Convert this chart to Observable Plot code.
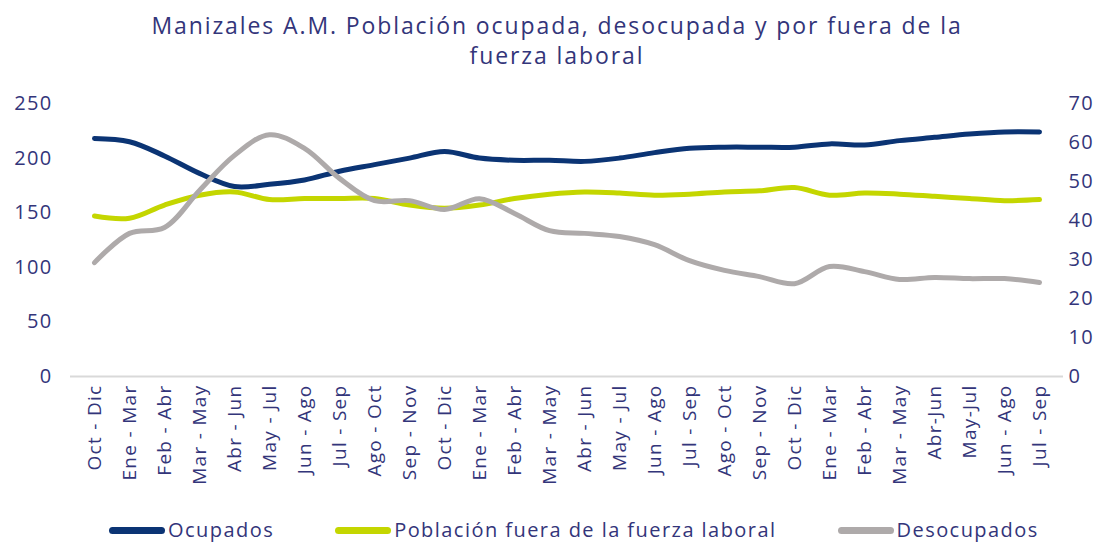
<!DOCTYPE html>
<html>
<head>
<meta charset="utf-8">
<script src="https://cdn.jsdelivr.net/npm/d3@7"></script>
<script src="https://cdn.jsdelivr.net/npm/@observablehq/plot@0.6"></script>
<style>
  html, body { margin: 0; background: #fff; font-family: "Open Sans", sans-serif; color: #33357a; overflow: hidden; }
  #title { width: 1114px; text-align: center; font-size: 23px; letter-spacing: 1.9px; line-height: 30px; padding-top: 10px; height: 60px; color: #33357a; }
  #legend { position: absolute; left: 109px; top: 518px; display: flex; gap: 61px; font-size: 20px; line-height: 24px; letter-spacing: 1.45px; height: 24px; align-items: center; white-space: nowrap; }
  #legend .item { display: flex; align-items: center; height: 24px; }
  #legend .sw { width: 56px; height: 7px; border-radius: 3.5px; margin-right: 3px; }
</style>
</head>
<body>
<div id="title">Manizales A.M. Población ocupada, desocupada y por fuera de la<br>fuerza laboral</div>
<div id="chart"></div>
<div id="legend"></div>
<script>
const periods = ["Oct - Dic","Ene - Mar","Feb - Abr","Mar - May","Abr - Jun","May - Jul","Jun - Ago","Jul - Sep","Ago - Oct","Sep - Nov","Oct - Dic ","Ene - Mar ","Feb - Abr ","Mar - May ","Abr - Jun ","May - Jul ","Jun - Ago ","Jul - Sep ","Ago - Oct ","Sep - Nov ","Oct - Dic  ","Ene - Mar  ","Feb - Abr  ","Mar - May  ","Abr-Jun","May-Jul","Jun - Ago  ","Jul - Sep  "];
const ocupados = [218,215,202,186,174,176,180,188,194,200,206,200,198,198,197,200,205,209,210,210,210,213,212,216,219,222,224,224];
const fuera = [147,145,157,166,169,162,163,163,163,157,154,157,163,167,169,168,166,167,169,170,173,166,168,167,165,163,161,162];
const desocupados = [29.2,36.7,38.2,47.7,56.7,62,58.5,50.8,45.1,45.1,42.8,45.6,41.8,37.4,36.7,35.9,33.8,29.7,27.2,25.6,23.8,28.2,26.9,24.9,25.4,25.1,25.1,24.1];
const leftTicks = [0,50,100,150,200,250];
const rightTicks = [0,10,20,30,40,50,60,70];
const seriesNames = ["Ocupados","Población fuera de la fuerza laboral","Desocupados"];
const colors = ["#0b3474","#c4d600","#aeaaaa"];

const k = 250 / 70;
const rows = [];
periods.forEach((p, i) => {
  rows.push({p, s: seriesNames[0], v: ocupados[i]});
  rows.push({p, s: seriesNames[1], v: fuera[i]});
  rows.push({p, s: seriesNames[2], v: desocupados[i] * k});
});
const textColor = "#33357a";

const chart = Plot.plot({
  width: 1114,
  height: 435,
  marginTop: 33,
  marginBottom: 129,
  marginLeft: 70,
  marginRight: 51,
  style: { fontFamily: "Open Sans, sans-serif", color: textColor, background: "#fff", letterSpacing: "1.3px" },
  x: { type: "point", domain: periods, padding: 0.5 },
  y: { domain: [0, 250] },
  color: { domain: seriesNames, range: colors },
  marks: [
    Plot.ruleY([0], { stroke: "#d9d9d9", strokeWidth: 2 }),
    Plot.axisX({ tickSize: 0, tickRotate: -90, fontSize: 19, tickPadding: 8, label: null, tickFormat: d => d.trim(), fill: textColor }),
    Plot.axisY(leftTicks, { anchor: "left", tickSize: 0, fontSize: 20, tickPadding: 0, dx: -18, label: null, fill: textColor }),
    Plot.axisY(rightTicks.map(v => v * k), { anchor: "right", tickSize: 0, fontSize: 20, tickPadding: 0, dx: 5, label: null, fill: textColor, tickFormat: d => String(Math.round(d / k)) }),
    Plot.line(rows, { x: "p", y: "v", z: "s", stroke: "s", strokeWidth: 5, curve: "catmull-rom", strokeLinecap: "round" })
  ]
});
document.getElementById("chart").appendChild(chart);

const legend = document.getElementById("legend");
seriesNames.forEach((n, i) => {
  const it = document.createElement("div");
  it.className = "item";
  it.innerHTML = `<span class="sw" style="background:${colors[i]}"></span><span>${n}</span>`;
  legend.appendChild(it);
});
</script>
</body>
</html>
